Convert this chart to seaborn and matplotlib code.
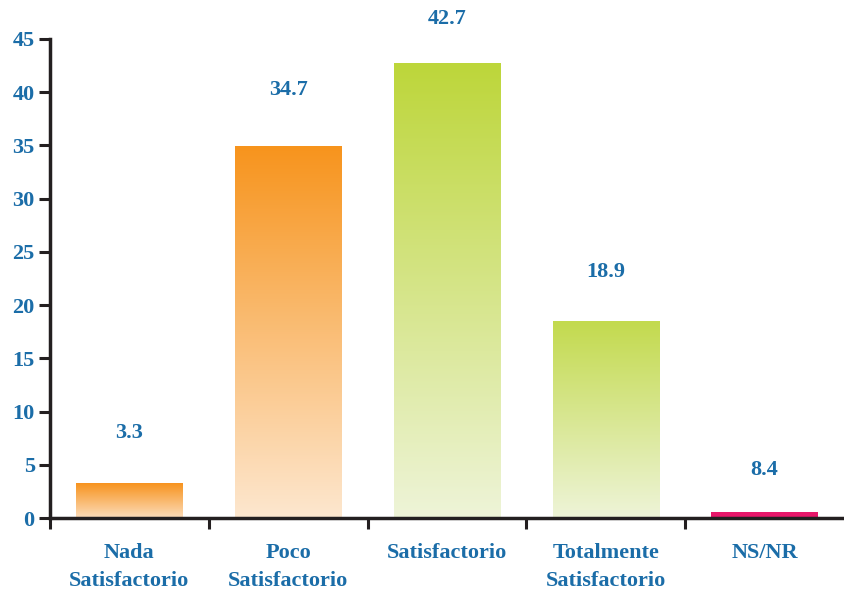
import numpy as np
import pandas as pd
import matplotlib
matplotlib.use("Agg")
import matplotlib.pyplot as plt
import seaborn as sns
from matplotlib.colors import LinearSegmentedColormap

categories = ["Nada\nSatisfactorio", "Poco\nSatisfactorio", "Satisfactorio",
              "Totalmente\nSatisfactorio", "NS/NR"]
bar_heights = [3.2, 34.9, 42.7, 18.5, 0.55]
value_labels = ["3.3", "34.7", "42.7", "18.9", "8.4"]
top_colors = ["#F7931E", "#F7941D", "#BDD63A", "#C3DA4E", "#E8176A"]
bottom_colors = ["#FCDDBB", "#FDE7CF", "#EEF4D8", "#EEF4D8", "#E8176A"]

sns.set_theme(style="white")
FONT = dict(family="Liberation Serif", fontweight="bold")
BLUE = "#1B6DA8"
DARK = "#231F20"

fig = plt.figure(figsize=(8.44, 5.92), dpi=100)
ax = fig.add_axes([50 / 844, 74 / 592, 794 / 844, 479 / 592])

df = pd.DataFrame({"cat": categories, "val": bar_heights})
sns.barplot(data=df, x="cat", y="val", ax=ax, width=0.67, color="white",
            saturation=1, edgecolor="none")

for patch, tc, bc in zip(ax.patches, top_colors, bottom_colors):
    x0, y0 = patch.get_x(), patch.get_y()
    w, h = patch.get_width(), patch.get_height()
    cmap = LinearSegmentedColormap.from_list("g", [bc, tc])
    grad = np.linspace(0, 1, 256).reshape(-1, 1)
    ax.imshow(grad, cmap=cmap, origin="lower", aspect="auto",
              extent=[x0, x0 + w, y0, y0 + h], zorder=2)
    patch.set_facecolor("none")

offsets = [4.8, 5.3, 4.2, 4.6, 4.0]
for i, (h, lab, off) in enumerate(zip(bar_heights, value_labels, offsets)):
    ax.text(i, h + off, lab, ha="center", va="center", color=BLUE,
            fontsize=16, clip_on=False, **FONT)

ax.set_xlim(-0.5, 4.5)
ax.set_ylim(0, 45)
ax.set_yticks(np.arange(0, 46, 5))
ax.set_xlabel("")
ax.set_ylabel("")
ax.set_xticks(range(len(categories)))
ax.set_xticklabels(categories, color=BLUE, fontsize=16, linespacing=1.55, **FONT)
ax.set_xticks([-0.5, 0.5, 1.5, 2.5, 3.5], minor=True)
for lbl in ax.get_yticklabels():
    lbl.set_color(BLUE)
    lbl.set_fontsize(16)
    lbl.set_fontfamily("Liberation Serif")
    lbl.set_fontweight("bold")

ax.tick_params(axis="x", which="major", length=0, pad=18)
ax.tick_params(axis="x", which="minor", length=8, width=2.2, color=DARK,
               direction="out", bottom=True)
ax.tick_params(axis="y", length=8, width=2.2, color=DARK, direction="out",
               left=True, pad=3)

for s in ["top", "right"]:
    ax.spines[s].set_visible(False)
for s in ["left", "bottom"]:
    ax.spines[s].set_color(DARK)
    ax.spines[s].set_linewidth(2.5)
    ax.spines[s].set_zorder(3)

fig.savefig("out.png", dpi=100)
